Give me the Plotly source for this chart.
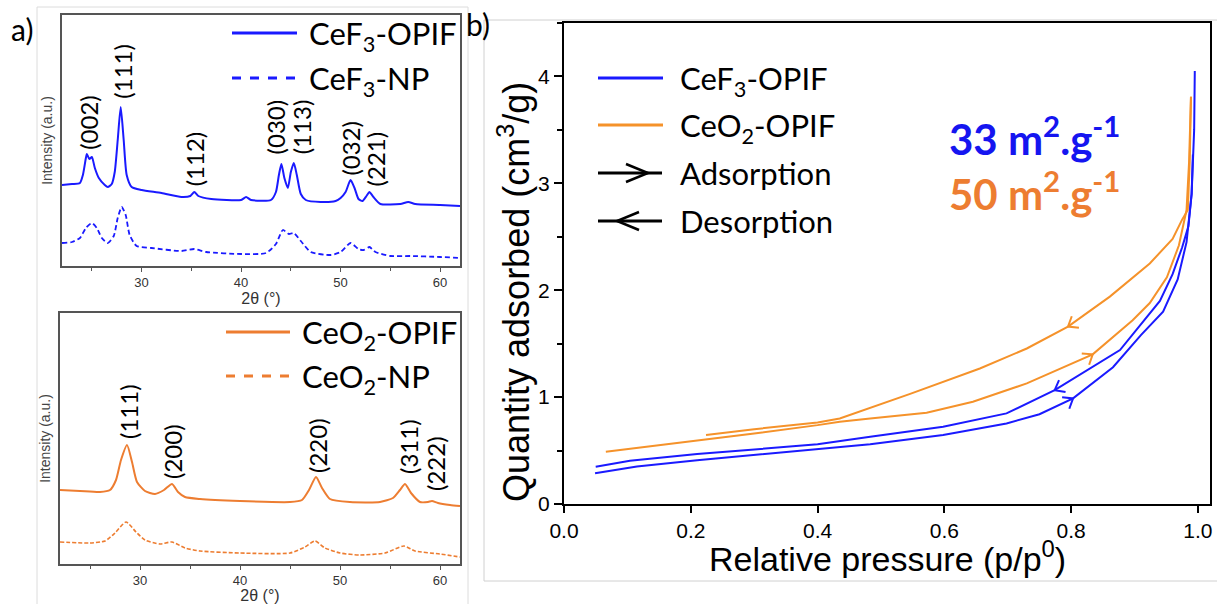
import numpy as np
import plotly.graph_objects as go

# ---------------- data ----------------
# Panel a (top): CeF3 XRD patterns, 2theta (deg) and intensity (a.u.)
cef3_opif_2t = [22.0, 23.0, 23.8, 24.1, 24.4, 24.5, 24.75, 25.0, 25.3, 25.7, 26.3, 26.6, 27.0, 27.3, 27.6,
                27.9, 28.2, 28.5, 29.0, 30.0, 32.0, 34.0, 34.9, 35.3, 35.7, 37.0, 40.0, 40.5, 41.0, 43.0,
                43.5, 43.8, 44.05, 44.35, 44.7, 45.0, 45.3, 45.6, 46.0, 46.5, 48.0, 49.5, 50.0, 50.5, 51.0,
                51.4, 51.8, 52.2, 52.6, 52.9, 53.3, 54.0, 56.0, 56.8, 57.5, 60.0, 62.0]
cef3_opif_int = [81, 82, 83, 91, 108, 112, 107, 109, 98, 88, 81, 79, 82, 94, 126,
                 159, 126, 91, 79, 76, 73, 69, 70, 74, 70, 67, 66, 69, 66, 66,
                 74, 91, 102, 88, 78, 94, 103, 91, 72, 66, 64, 65, 68, 74, 86,
                 78, 67, 65, 70, 74, 69, 62, 62, 64, 62, 61, 60]
cef3_np_2t = [22.0, 23.0, 23.8, 24.4, 25.0, 25.5, 26.0, 26.6, 27.2, 27.6, 28.0, 28.4, 28.8, 29.5, 31.0,
              34.0, 35.3, 36.5, 40.0, 42.5, 43.5, 44.2, 44.8, 45.3, 46.0, 47.0, 49.0, 50.0, 51.0, 51.8,
              52.3, 52.9, 53.5, 55.0, 57.0, 60.0, 62.0]
cef3_np_int = [23, 24, 28, 38, 43, 38, 28, 23, 30, 48, 59, 51, 31, 20, 18,
               15, 17, 14, 12, 13, 22, 36, 32, 33, 25, 14, 11, 14, 23, 17,
               16, 19, 14, 10, 10, 9, 8]

# Panel a (bottom): CeO2 XRD patterns
ceo2_opif_2t = [22.0, 24.0, 26.0, 27.0, 27.6, 28.1, 28.7, 29.2, 29.7, 30.5, 31.5, 32.4, 33.2, 33.8, 34.5,
                36.0, 40.0, 45.0, 46.2, 46.9, 47.6, 48.2, 49.0, 51.0, 54.0, 55.3, 56.0, 56.5, 57.1, 58.0,
                58.8, 59.2, 59.8, 61.0, 62.0]
ceo2_opif_int = [74, 73, 72, 74, 84, 104, 119, 102, 82, 73, 70, 74, 80, 72, 67,
                 65, 63, 62, 64, 74, 87, 76, 65, 62, 62, 66, 74, 80, 71, 62,
                 62, 63, 61, 59, 58]
ceo2_np_2t = [22.0, 25.0, 26.5, 27.5, 28.6, 29.6, 30.5, 32.0, 33.2, 34.5, 36.0, 40.0, 45.0, 46.5, 47.5,
              48.5, 50.0, 52.0, 54.5, 56.4, 57.5, 60.0, 62.0]
ceo2_np_int = [22, 21, 23, 31, 42, 32, 24, 20, 22, 16, 13, 11, 11, 17, 23,
               16, 11, 9, 11, 18, 13, 10, 7]

# Peak labels
cef3_peaks = ["(002)", "(111)", "(112)", "(030)", "(113)", "(032)", "(221)"]
cef3_peak_2t = [24.7, 28.1, 35.4, 43.55, 46.15, 51.0, 53.6]
cef3_peak_lab_y = [144, 195, 107, 139, 139, 118, 107]
ceo2_peaks = ["(111)", "(200)", "(220)", "(311)", "(222)"]
ceo2_peak_2t = [28.8, 33.2, 47.7, 56.8, 59.5]
ceo2_peak_lab_y = [152, 112, 118, 117, 100]

# Panel b: N2 isotherms, relative pressure and quantity adsorbed (cm3/g)
cef3_ads_p = [0.049, 0.115, 0.21, 0.30, 0.40, 0.483, 0.598, 0.698, 0.75, 0.803, 0.866, 0.91, 0.945,
              0.968, 0.982, 0.990, 0.994, 0.995]
cef3_ads_q = [0.287, 0.35, 0.41, 0.46, 0.51, 0.56, 0.645, 0.754, 0.84, 0.988, 1.28, 1.58, 1.80,
              2.10, 2.45, 2.9, 3.5, 4.05]
cef3_des_p = [0.992, 0.990, 0.985, 0.975, 0.96, 0.94, 0.877, 0.774, 0.698, 0.598, 0.483, 0.40, 0.21,
              0.104, 0.05]
cef3_des_q = [3.27, 2.9, 2.6, 2.4, 2.15, 1.9, 1.44, 1.065, 0.848, 0.723, 0.63, 0.558, 0.467,
              0.405, 0.349]
ceo2_ads_p = [0.066, 0.21, 0.30, 0.40, 0.435, 0.483, 0.572, 0.645, 0.73, 0.834, 0.897, 0.924, 0.951,
              0.97, 0.982, 0.986, 0.989]
ceo2_ads_q = [0.489, 0.59, 0.66, 0.738, 0.77, 0.80, 0.853, 0.956, 1.128, 1.40, 1.72, 1.88, 2.12,
              2.42, 2.75, 3.2, 3.81]
ceo2_des_p = [0.989, 0.987, 0.984, 0.975, 0.96, 0.924, 0.861, 0.795, 0.73, 0.656, 0.546, 0.483, 0.435,
              0.40, 0.30, 0.224]
ceo2_des_q = [3.81, 3.2, 2.75, 2.66, 2.48, 2.25, 1.94, 1.66, 1.455, 1.268, 1.03, 0.90, 0.80,
              0.763, 0.70, 0.645]
arrow_p = {"cef3_ads": 0.803, "cef3_des": 0.774, "ceo2_ads": 0.834, "ceo2_des": 0.795}

# ---------------- style / layout ----------------
W, H = 1217, 604
BLUE = "#1a1aff"
ORANGE_A = "#ED7D31"
ORANGE_B = "#F5922A"
LEG_FONT = "Lato, Noto Sans, sans-serif"
AX_FONT = "Liberation Sans, Arial, sans-serif"


def fx(x):
    return x / W


def fy(y):
    return 1 - y / H


fig = go.Figure()

# panel a traces
fig.add_trace(go.Scatter(x=cef3_opif_2t, y=cef3_opif_int, mode="lines", name="CeF3-OPIF",
                         line=dict(color=BLUE, width=2, shape="spline", smoothing=0.6),
                         xaxis="x", yaxis="y"))
fig.add_trace(go.Scatter(x=cef3_np_2t, y=cef3_np_int, mode="lines", name="CeF3-NP",
                         line=dict(color=BLUE, width=1.8, dash="5px,3px", shape="spline", smoothing=0.6),
                         xaxis="x", yaxis="y"))
fig.add_trace(go.Scatter(x=ceo2_opif_2t, y=ceo2_opif_int, mode="lines", name="CeO2-OPIF",
                         line=dict(color=ORANGE_A, width=2, shape="spline", smoothing=0.6),
                         xaxis="x2", yaxis="y2"))
fig.add_trace(go.Scatter(x=ceo2_np_2t, y=ceo2_np_int, mode="lines", name="CeO2-NP",
                         line=dict(color=ORANGE_A, width=1.6, dash="4px,2px", shape="spline", smoothing=0.6),
                         xaxis="x2", yaxis="y2"))

# panel b traces
for p, q, col, nm in [(cef3_ads_p, cef3_ads_q, BLUE, "CeF3-OPIF adsorption"),
                      (cef3_des_p, cef3_des_q, BLUE, "CeF3-OPIF desorption"),
                      (ceo2_ads_p, ceo2_ads_q, ORANGE_B, "CeO2-OPIF adsorption"),
                      (ceo2_des_p, ceo2_des_q, ORANGE_B, "CeO2-OPIF desorption")]:
    fig.add_trace(go.Scatter(x=p, y=q, mode="lines", name=nm, line=dict(color=col, width=2),
                             xaxis="x3", yaxis="y3"))

# panel b axes geometry
XB = [564, 1210]
YB = [23, 504]
XR = [0, 1.019]
YR = [0, 4.5]
sx = (XB[1] - XB[0]) / (XR[1] - XR[0])
sy = (YB[1] - YB[0]) / (YR[1] - YR[0])


def chevron(p, q, p0, forward, size=11, ang=np.radians(38)):
    p = np.asarray(p)
    q = np.asarray(q)
    order = np.argsort(p)
    ps, qs = p[order], q[order]
    q0 = np.interp(p0, ps, qs)
    d = 0.01
    dq = np.interp(p0 + d, ps, qs) - np.interp(p0 - d, ps, qs)
    v = np.array([2 * d * sx, dq * sy])
    v = v / np.linalg.norm(v)
    if not forward:
        v = -v
    pts = []
    for a in (ang, -ang):
        rot = np.array([v[0] * np.cos(a) - v[1] * np.sin(a), v[0] * np.sin(a) + v[1] * np.cos(a)])
        pts.append((p0 - size * rot[0] / sx, q0 - size * rot[1] / sy))
    return [pts[0][0], p0, pts[1][0]], [pts[0][1], q0, pts[1][1]]


for (p, q, key, fwd, col) in [(cef3_ads_p, cef3_ads_q, "cef3_ads", True, BLUE),
                              (cef3_des_p, cef3_des_q, "cef3_des", False, BLUE),
                              (ceo2_ads_p, ceo2_ads_q, "ceo2_ads", True, ORANGE_B),
                              (ceo2_des_p, ceo2_des_q, "ceo2_des", False, ORANGE_B)]:
    cx, cy = chevron(p, q, arrow_p[key], fwd)
    fig.add_trace(go.Scatter(x=cx, y=cy, mode="lines", line=dict(color=col, width=2),
                             showlegend=False, hoverinfo="skip", xaxis="x3", yaxis="y3"))

annotations = []
shapes = []


def ann(**kw):
    base = dict(showarrow=False, xanchor="center", yanchor="middle")
    base.update(kw)
    annotations.append(base)


# peak labels
for lab, xx, yy in zip(cef3_peaks, cef3_peak_2t, cef3_peak_lab_y):
    ann(x=xx, y=yy, xref="x", yref="y", text=lab, textangle=-90,
        font=dict(family=LEG_FONT, size=24, color="black"))
for lab, xx, yy in zip(ceo2_peaks, ceo2_peak_2t, ceo2_peak_lab_y):
    ann(x=xx, y=yy, xref="x2", yref="y2", text=lab, textangle=-90,
        font=dict(family=LEG_FONT, size=24, color="black"))

# panel a legends (drawn manually)
leg_a = [(33, "CeF<sub>3</sub>-OPIF", BLUE, None), (78, "CeF<sub>3</sub>-NP", BLUE, "dash"),
         (332, "CeO<sub>2</sub>-OPIF", ORANGE_A, None), (376, "CeO<sub>2</sub>-NP", ORANGE_A, "dash")]
for yy, txt, col, dash in leg_a:
    x0, x1 = (232, 297) if yy < 200 else (226, 290)
    shapes.append(dict(type="line", xref="paper", yref="paper", x0=fx(x0), x1=fx(x1), y0=fy(yy), y1=fy(yy),
                       line=dict(color=col, width=3, dash=dash)))
    ann(x=fx(x1 + 10), y=fy(yy + 2), xref="paper", yref="paper", text=txt, xanchor="left",
        font=dict(family=LEG_FONT, size=31, color="black"))

# panel b legend
for yy, txt, col in [(78, "CeF<sub>3</sub>-OPIF", BLUE), (125, "CeO<sub>2</sub>-OPIF", ORANGE_B)]:
    shapes.append(dict(type="line", xref="paper", yref="paper", x0=fx(598), x1=fx(663), y0=fy(yy), y1=fy(yy),
                       line=dict(color=col, width=3)))
    ann(x=fx(678), y=fy(yy + 2), xref="paper", yref="paper", text=txt, xanchor="left",
        font=dict(family=LEG_FONT, size=31, color="black"))
for yy, txt, tip, back in [(173, "Adsorption", 648, 626), (221, "Desorption", 617, 639)]:
    shapes.append(dict(type="line", xref="paper", yref="paper", x0=fx(598), x1=fx(662), y0=fy(yy), y1=fy(yy),
                       line=dict(color="black", width=3)))
    path = f"M {fx(back)} {fy(yy - 9)} L {fx(tip)} {fy(yy)} L {fx(back)} {fy(yy + 9)}"
    shapes.append(dict(type="path", xref="paper", yref="paper", path=path, line=dict(color="black", width=2.5)))
    ann(x=fx(678), y=fy(yy), xref="paper", yref="paper", text=txt, xanchor="left",
        font=dict(family=LEG_FONT, size=31, color="black"))

# surface areas
ann(x=fx(1034), y=fy(136), xref="paper", yref="paper", text="<b>33 m<sup>2</sup>.g<sup>-1</sup></b>",
    font=dict(family=LEG_FONT, size=42, color="#1515f0"))
ann(x=fx(1034), y=fy(191), xref="paper", yref="paper", text="<b>50 m<sup>2</sup>.g<sup>-1</sup></b>",
    font=dict(family=LEG_FONT, size=42, color=ORANGE_A))

# panel b axis titles (placed as in the reference)
ann(x=fx(887), y=fy(556), xref="paper", yref="paper", text="Relative pressure (p/p<sup>0</sup>)",
    font=dict(family=AX_FONT, size=34, color="black"))
ann(x=fx(514), y=fy(292), xref="paper", yref="paper", text="Quantity adsorbed (cm<sup>3</sup>/g)",
    textangle=-90, font=dict(family=AX_FONT, size=36, color="black"))

# panel letters
ann(x=fx(22), y=fy(29), xref="paper", yref="paper", text="a)",
    font=dict(family=LEG_FONT, size=30, color="black"))
ann(x=fx(478), y=fy(24), xref="paper", yref="paper", text="b)",
    font=dict(family=LEG_FONT, size=30, color="black"))

# light image frames
shapes.append(dict(type="rect", xref="paper", yref="paper", x0=fx(37), x1=fx(468), y0=fy(610), y1=fy(7),
                   line=dict(color="#dcdcdc", width=1), layer="below"))
shapes.append(dict(type="rect", xref="paper", yref="paper", x0=fx(484), x1=fx(1222), y0=fy(581), y1=fy(20),
                   line=dict(color="#d0d0d0", width=1), layer="below"))

xa_common = dict(range=[22, 62], tickvals=[30, 40, 50, 60], ticks="outside", ticklen=4, tickwidth=1,
                 tickcolor="#555", showline=True, linecolor="#555", linewidth=1.5, mirror=True,
                 showgrid=False, zeroline=False, automargin=False,
                 tickfont=dict(family=AX_FONT, size=13, color="#333"),
                 minor=dict(dtick=5, tick0=0, ticks="outside", ticklen=3, tickcolor="#555"))
ya_common = dict(range=[0, 251], showticklabels=False, ticks="", showline=True, linecolor="#555",
                 linewidth=1.5, mirror=True, showgrid=False, zeroline=False, automargin=False)

fig.update_layout(
    width=W, height=H, margin=dict(l=0, r=0, t=0, b=0, autoexpand=False),
    plot_bgcolor="white", paper_bgcolor="white",
    font=dict(family=AX_FONT, size=14, color="black"),
    showlegend=False,
    xaxis=dict(domain=[fx(62), fx(460)], anchor="y", **xa_common,
               title=dict(text="2θ (°)", font=dict(family=AX_FONT, size=16, color="#333"), standoff=2)),
    yaxis=dict(domain=[fy(266), fy(15)], anchor="x", **ya_common,
               title=dict(text="Intensity (a.u.)", font=dict(family=AX_FONT, size=14, color="#444"), standoff=4)),
    xaxis2=dict(domain=[fx(60), fx(460)], anchor="y2", **xa_common,
                title=dict(text="2θ (°)", font=dict(family=AX_FONT, size=16, color="#333"), standoff=2)),
    yaxis2=dict(domain=[fy(564), fy(313)], anchor="x2", **ya_common,
                title=dict(text="Intensity (a.u.)", font=dict(family=AX_FONT, size=14, color="#444"), standoff=4)),
    xaxis3=dict(domain=[fx(XB[0]), fx(XB[1])], anchor="y3", range=XR, tickvals=[0, 0.2, 0.4, 0.6, 0.8, 1.0],
                tickformat=".1f", ticks="outside", ticklen=7, tickwidth=1.5, tickcolor="black",
                showline=True, linecolor="black", linewidth=2, mirror=True, showgrid=False, zeroline=False,
                automargin=False,
                tickfont=dict(family=AX_FONT, size=21, color="black")),
    yaxis3=dict(domain=[fy(YB[1]), fy(YB[0])], anchor="x3", range=YR, tickvals=[0, 1, 2, 3, 4],
                ticks="outside", ticklen=8, tickwidth=1.5, tickcolor="black",
                showline=True, linecolor="black", linewidth=2, mirror=True, showgrid=False, zeroline=False,
                automargin=False,
                tickfont=dict(family=AX_FONT, size=21, color="black"),
                minor=dict(dtick=0.5, tick0=0, ticks="outside", ticklen=5, tickcolor="black")),
    annotations=annotations, shapes=shapes,
)

fig.write_html("out.html")
